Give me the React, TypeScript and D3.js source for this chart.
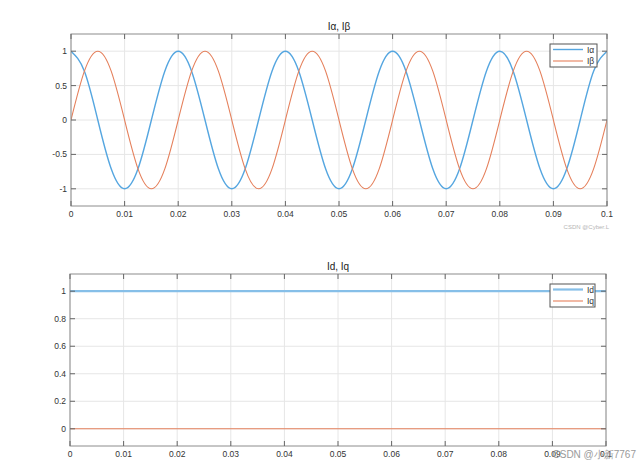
import React from "react";
import * as d3 from "d3";

// ---- data ----
const time: number[] = [
  0, 0.0025, 0.005, 0.0075, 0.01, 0.0125, 0.015, 0.0175,
  0.02, 0.0225, 0.025, 0.0275, 0.03, 0.0325, 0.035, 0.0375,
  0.04, 0.0425, 0.045, 0.0475, 0.05, 0.0525, 0.055, 0.0575,
  0.06, 0.0625, 0.065, 0.0675, 0.07, 0.0725, 0.075, 0.0775,
  0.08, 0.0825, 0.085, 0.0875, 0.09, 0.0925, 0.095, 0.0975, 0.1,
];
const iAlpha: number[] = [
  1, 0.71, 0, -0.71, -1, -0.71, 0, 0.71,
  1, 0.71, 0, -0.71, -1, -0.71, 0, 0.71,
  1, 0.71, 0, -0.71, -1, -0.71, 0, 0.71,
  1, 0.71, 0, -0.71, -1, -0.71, 0, 0.71,
  1, 0.71, 0, -0.71, -1, -0.71, 0, 0.71, 1,
];
const iBeta: number[] = [
  0, 0.71, 1, 0.71, 0, -0.71, -1, -0.71,
  0, 0.71, 1, 0.71, 0, -0.71, -1, -0.71,
  0, 0.71, 1, 0.71, 0, -0.71, -1, -0.71,
  0, 0.71, 1, 0.71, 0, -0.71, -1, -0.71,
  0, 0.71, 1, 0.71, 0, -0.71, -1, -0.71, 0,
];
const timeDQ: number[] = [0, 0.1];
const iD: number[] = [1, 1];
const iQ: number[] = [0, 0];

const xTicks: number[] = [0, 0.01, 0.02, 0.03, 0.04, 0.05, 0.06, 0.07, 0.08, 0.09, 0.1];
const yTicksTop: number[] = [-1, -0.5, 0, 0.5, 1];
const yTicksBottom: number[] = [0, 0.2, 0.4, 0.6, 0.8, 1];

const BLUE = "#55a6e0";
const BLUE_LIGHT = "#86bfe8";
const ORANGE = "#e5805c";
const FONT = "'Liberation Sans', Arial, Helvetica, sans-serif";

type Series = { name: string; t: number[]; v: number[]; color: string; width: number };

function Panel(props: {
  left: number; right: number; top: number; bottom: number;
  yDomain: [number, number]; yTicks: number[]; title: string;
  series: Series[]; legend: { x: number; y: number; w: number; h: number };
  curved: boolean; id: string;
}) {
  const { left, right, top, bottom, yDomain, yTicks, title, series, legend, curved, id } = props;
  const x = d3.scaleLinear().domain([0, 0.1]).range([left, right]);
  const y = d3.scaleLinear().domain(yDomain).range([bottom, top]);
  const fmt = (v: number) => (v === 0 ? "0" : String(+v.toFixed(2)));
  return (
    <g>
      <rect x={left} y={top} width={right - left} height={bottom - top} fill="#fff" />
      {xTicks.map((t, i) => (
        <line key={"gx" + i} x1={x(t)} x2={x(t)} y1={top} y2={bottom} stroke="#e6e6e6" strokeWidth={1} />
      ))}
      {yTicks.map((t, i) => (
        <line key={"gy" + i} x1={left} x2={right} y1={y(t)} y2={y(t)} stroke="#e6e6e6" strokeWidth={1} />
      ))}
      <defs>
        <clipPath id={"clip-" + id}>
          <rect x={left} y={top} width={right - left} height={bottom - top} />
        </clipPath>
      </defs>
      <g clipPath={`url(#clip-${id})`}>
        {series.map((s) => {
          const line = d3
            .line<number>()
            .x((_, i) => x(s.t[i]))
            .y((d) => y(d))
            .curve(curved ? d3.curveNatural : d3.curveLinear);
          return (
            <path key={s.name} d={line(s.v) || ""} fill="none" stroke={s.color} strokeWidth={s.width} />
          );
        })}
      </g>
      <rect x={left} y={top} width={right - left} height={bottom - top} fill="none" stroke="#8c8c8c" strokeWidth={1} />
      {xTicks.map((t, i) => (
        <g key={"tx" + i}>
          <line x1={x(t)} x2={x(t)} y1={bottom} y2={bottom - 5} stroke="#666" strokeWidth={1} />
          <line x1={x(t)} x2={x(t)} y1={top} y2={top + 5} stroke="#666" strokeWidth={1} />
          <text x={x(t)} y={bottom + 11} textAnchor="middle" fontSize={8.5} fill="#333" fontFamily={FONT}>
            {fmt(t)}
          </text>
        </g>
      ))}
      {yTicks.map((t, i) => (
        <g key={"ty" + i}>
          <line x1={left} x2={left + 5} y1={y(t)} y2={y(t)} stroke="#666" strokeWidth={1} />
          <line x1={right} x2={right - 5} y1={y(t)} y2={y(t)} stroke="#666" strokeWidth={1} />
          <text x={left - 4} y={y(t) + 3} textAnchor="end" fontSize={8.5} fill="#333" fontFamily={FONT}>
            {fmt(t)}
          </text>
        </g>
      ))}
      <text x={(left + right) / 2} y={top - 4} textAnchor="middle" fontSize={10} fill="#222" fontFamily={FONT}>
        {title}
      </text>
      <g>
        <rect x={legend.x} y={legend.y} width={legend.w} height={legend.h} fill="#fff" stroke="#555" strokeWidth={1} />
        {series.map((s, i) => {
          const ly = legend.y + 5.5 + i * 11.5;
          return (
            <g key={"lg" + s.name}>
              <line x1={legend.x + 3} x2={legend.x + 33} y1={ly} y2={ly} stroke={s.color} strokeWidth={s.width} />
              <text x={legend.x + 37} y={ly + 3} fontSize={8.5} fill="#333" fontFamily={FONT}>
                {s.name}
              </text>
            </g>
          );
        })}
      </g>
    </g>
  );
}

export default function App() {
  return (
    <svg
      width={644}
      height={464}
      style={{ position: "absolute", left: 0, top: 0, background: "#fff" }}
    >
      <rect x={0} y={0} width={644} height={464} fill="#fff" />
      <Panel
        id="top"
        left={71}
        right={607}
        top={34}
        bottom={206}
        yDomain={[-1.25, 1.25]}
        yTicks={yTicksTop}
        title="Iα, Iβ"
        curved={true}
        series={[
          { name: "Iα", t: time, v: iAlpha, color: BLUE, width: 1.4 },
          { name: "Iβ", t: time, v: iBeta, color: ORANGE, width: 1.1 },
        ]}
        legend={{ x: 550, y: 44, w: 47, h: 23 }}
      />
      <text x={609} y={229} textAnchor="end" fontSize={6} fill="#b5b5b5" fontFamily={FONT}>
        CSDN @Cyber.L
      </text>
      <Panel
        id="bottom"
        left={70}
        right={606}
        top={274}
        bottom={446}
        yDomain={[-0.125, 1.125]}
        yTicks={yTicksBottom}
        title="Id, Iq"
        curved={false}
        series={[
          { name: "Id", t: timeDQ, v: iD, color: BLUE_LIGHT, width: 2.2 },
          { name: "Iq", t: timeDQ, v: iQ, color: ORANGE, width: 1.1 },
        ]}
        legend={{ x: 550, y: 284, w: 45, h: 23 }}
      />
      <text x={636} y={458} textAnchor="end" fontSize={10} fill="#9a9a9a" fontFamily={FONT}>
        CSDN @小新7767
      </text>
    </svg>
  );
}
